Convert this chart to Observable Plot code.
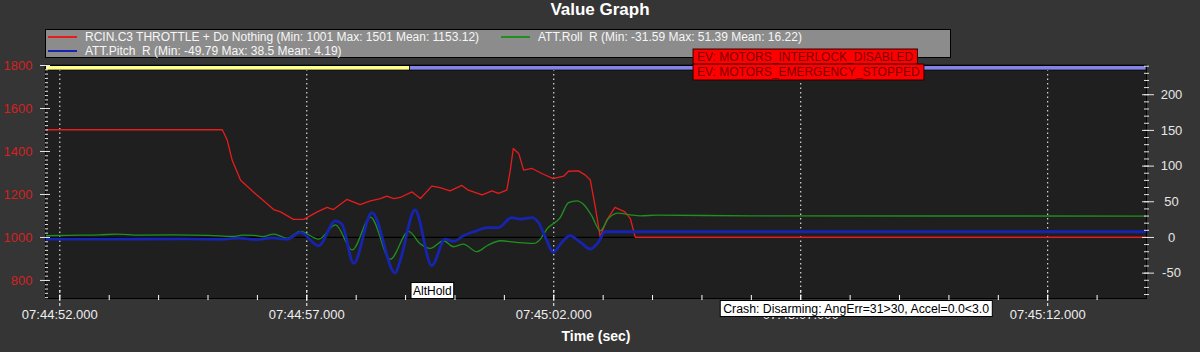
<!DOCTYPE html>
<html><head><meta charset="utf-8">
<script src="https://cdn.jsdelivr.net/npm/d3@7"></script>
<script src="https://cdn.jsdelivr.net/npm/@observablehq/plot@0.6"></script>
<style>
html,body{margin:0;padding:0;background:#353535;}
#wrap{position:relative;width:1200px;height:352px;overflow:hidden;font-family:"Liberation Sans",Arial,sans-serif;}
#title{position:absolute;left:0;top:1px;width:1200px;text-align:center;color:#fff;font-weight:bold;font-size:17px;line-height:18px;}
#legend{position:absolute;left:45px;top:29px;width:904px;height:27px;background:#8c8c8c;border:1px solid #000;}
.li{position:absolute;color:#f6f6f6;font-size:12px;line-height:14px;white-space:pre;}
.ls{position:absolute;height:2px;width:29px;}
#chart{position:absolute;left:0;top:0;}
</style></head>
<body><div id="wrap"><div id="title">Value Graph</div><div id="legend"></div><div id="chart"></div></div>
<script>
// ---- data (time = seconds after 07:44:00) ----
const throttleT = [51.71,55.29,55.39,55.49,55.66,55.99,56.33,56.47,56.73,56.94,57.21,57.41,57.54,57.81,58.08,58.29,58.49,58.62,58.76,58.89,59.13,59.30,59.53,59.70,59.90,60.14,60.27,60.55,60.75,60.88,61.05,61.12,61.18,61.29,61.39,61.56,61.79,61.99,62.20,62.30,62.50,62.64,62.74,62.84,62.94,63.07,63.24,63.44,63.55,63.65,74.0];
const throttleV = [1501,1501,1452,1359,1266,1197,1130,1119,1084,1084,1119,1140,1130,1177,1153,1170,1181,1192,1181,1186,1212,1181,1239,1232,1217,1242,1220,1198,1217,1205,1220,1313,1414,1391,1313,1321,1294,1274,1285,1308,1310,1290,1267,1142,1003,1080,1140,1119,1088,1001,1001];

const rollT = [51.71,52.2,52.8,53.16,53.6,54.3,55.0,55.5,55.7,55.93,56.1,56.33,56.6,56.87,57.24,57.58,57.92,58.29,58.69,59.06,59.30,59.50,59.77,59.97,60.17,60.44,60.65,60.92,61.25,61.59,61.73,61.86,62.13,62.30,62.47,62.60,62.77,62.94,63.11,63.31,63.55,63.75,64.08,66.0,74.0];
const rollV = [2.4,3.0,3.6,4.7,3.3,3.5,3.0,1.5,3.2,3.0,1.2,4.7,-0.9,8.4,-2.3,17.5,-17.5,28.5,-30.5,8.5,-9.3,-15.3,-4.6,-13.0,-9.3,-19.9,-11.6,-4.6,-7.0,-8.4,-2.3,11.7,27.9,48.8,51.4,46.6,30.3,9.3,27.0,34.0,31.7,30.3,31.2,30.3,30.0];

const pitchT = [51.71,53.0,54.5,55.3,55.6,56.0,56.3,56.6,56.87,57.24,57.58,57.71,57.95,58.32,58.79,58.89,59.19,59.53,59.80,59.97,60.17,60.44,60.65,60.88,61.15,61.32,61.56,61.69,61.86,61.99,62.16,62.33,62.54,62.74,62.90,63.04,74.0];
const pitchV = [-2.3,-2.3,-2.0,-2.5,-1.0,-3.0,-0.5,-2.5,7.0,-11.6,23.3,18.7,-36.2,34.9,-49.8,-32.5,38.5,-39.5,-2.3,-5.5,2.4,9.3,13.9,13.9,27.9,25.6,27.9,20.9,-4.6,-20.9,-7.0,2.4,-7.0,-16.2,-7.0,8.0,8.0];

const seriesNames = ["RCIN.C3 THROTTLE + Do Nothing (Min: 1001 Max: 1501 Mean: 1153.12)", "ATT.Roll  R (Min: -31.59 Max: 51.39 Mean: 16.22)", "ATT.Pitch  R (Min: -49.79 Max: 38.5 Mean: 4.19)"];
const seriesColors = ["#e81c1c", "#1f901f", "#1624b0"];

const modeStart = [51.71, 59.09];
const modeEnd = [59.09, 74.0];
const modeColors = ["#ffff8c", "#8484e6"];
const modeLabelT = [59.09];
const modeLabels = ["AltHold"];

const eventT = [64.82, 64.82];
const eventLabels = ["EV: MOTORS_INTERLOCK_DISABLED", "EV: MOTORS_EMERGENCY_STOPPED"];
const crashT = [65.37];
const crashLabels = ["Crash: Disarming: AngErr=31>30, Accel=0.0<3.0"];

const xTicks = [52, 57, 62, 67, 72];
const xTickLabels = ["07:44:52.000", "07:44:57.000", "07:45:02.000", "07:45:07.000", "07:45:12.000"];
const leftTicks = [800, 1000, 1200, 1400, 1600, 1800];
const rightTicks = [-50, 0, 50, 100, 150, 200];

// ---- legend ----
const leg = document.getElementById("legend");
const legPos = [[2, 0], [455, 0], [2, 14]];
seriesNames.forEach((n, i) => {
  const [lx, ly] = legPos[i];
  const s = document.createElement("div"); s.className = "ls";
  s.style.left = lx + "px"; s.style.top = (ly + 6) + "px"; s.style.background = seriesColors[i];
  leg.appendChild(s);
  const t = document.createElement("div"); t.className = "li";
  t.style.left = (lx + 37) + "px"; t.style.top = ly + "px"; t.textContent = n;
  leg.appendChild(t);
});

// ---- chart ----
const K = 3.32, Z = 1000; // right axis -> left axis units
const throttle = throttleT.map((t, i) => ({t, v: throttleV[i]}));
const roll = rollT.map((t, i) => ({t, v: Z + K * rollV[i]}));
const pitch = pitchT.map((t, i) => ({t, v: Z + K * pitchV[i]}));
const modes = modeStart.map((s, i) => ({start: s, end: modeEnd[i], color: modeColors[i]}));
const xFmt = d => xTickLabels[xTicks.indexOf(d)];
const font = '"Liberation Sans", Arial, sans-serif';

const chart = Plot.plot({
  width: 1200, height: 352,
  marginTop: 65, marginBottom: 54, marginLeft: 45, marginRight: 54,
  style: {background: "transparent", fontFamily: font, fontSize: "13px", overflow: "visible"},
  x: {domain: [51.71, 74.0]},
  y: {domain: [716, 1800]},
  color: {type: "identity"},
  marks: [
    Plot.frame({fill: "#1f1f1f", stroke: null}),
    Plot.gridX({ticks: xTicks, stroke: "#fff", strokeOpacity: 1, strokeDasharray: "1.5,3"}),
    Plot.ruleY([Z], {stroke: "#000", strokeWidth: 1.3}),
    Plot.rect(modes, {x1: "start", x2: "end", fill: "color", insetBottom: 228, stroke: "#000", strokeWidth: 0.7}),
    Plot.line(throttle, {x: "t", y: "v", stroke: seriesColors[0], strokeWidth: 1.3}),
    Plot.line(roll, {x: "t", y: "v", stroke: seriesColors[1], strokeWidth: 1.3, curve: "monotone-x"}),
    Plot.line(pitch, {x: "t", y: "v", stroke: seriesColors[2], strokeWidth: 2.8, curve: "monotone-x"}),
    Plot.frame({stroke: "#000"}),
    // left axis
    Plot.axisY({anchor: "left", ticks: leftTicks, tickFormat: d => String(d), tickSize: 0, tickPadding: 13, fill: "#d42222", fontSize: 13, label: null}),
    Plot.axisY({anchor: "left", ticks: leftTicks, tickSize: 5, text: null, stroke: "#e6e6e6", label: null}),
    Plot.axisY({anchor: "left", ticks: leftTicks, tickSize: -5, text: null, stroke: "#e6e6e6", label: null}),
    Plot.axisY({anchor: "left", ticks: d3.range(720, 1800, 20), tickSize: -3, text: null, stroke: "#e6e6e6", label: null}),
    // right axis
    Plot.axisY({anchor: "right", ticks: rightTicks.map(v => Z + K * v), tickFormat: d => String(Math.round((d - Z) / K)), tickSize: 0, tickPadding: 25, textAnchor: "middle", fill: "#e6e6e6", fontSize: 13, label: null}),
    Plot.axisY({anchor: "right", ticks: rightTicks.map(v => Z + K * v), tickSize: 7, text: null, stroke: "#e6e6e6", label: null}),
    Plot.axisY({anchor: "right", ticks: rightTicks.map(v => Z + K * v), tickSize: -5, text: null, stroke: "#e6e6e6", label: null}),
    Plot.axisY({anchor: "right", ticks: d3.range(-80, 241, 10).map(v => Z + K * v), tickSize: -3, text: null, stroke: "#e6e6e6", label: null}),
    Plot.axisY({anchor: "right", ticks: d3.range(-80, 241, 10).map(v => Z + K * v), tickSize: 2, text: null, stroke: "#e6e6e6", label: null}),
    // x axis
    Plot.axisX({ticks: xTicks, tickFormat: xFmt, tickSize: 0, tickPadding: 11, fill: "#eeeeee", fontSize: 13, label: null}),
    Plot.axisX({ticks: xTicks, tickSize: 8, text: null, stroke: "#fff", strokeDasharray: "3,2", label: null}),
    Plot.axisX({ticks: xTicks, tickSize: -8, text: null, stroke: "#fff", strokeDasharray: "3,2", label: null}),
    Plot.axisX({ticks: d3.range(52, 74), tickSize: 2, text: null, stroke: "#fff", label: null}),
    Plot.axisX({ticks: d3.range(52, 74), tickSize: -3, text: null, stroke: "#fff", label: null}),
    Plot.text(["Time (sec)"], {frameAnchor: "bottom", dy: 42, fontWeight: "bold", fontSize: 14, fill: "#fff"}),
    // annotations
    Plot.text(modeLabelT.map((t, i) => ({t, s: modeLabels[i]})), {x: "t", text: "s", frameAnchor: "bottom", dy: -4, dx: 3, textAnchor: "start", fill: "#000", fontSize: 12}),
    Plot.text([{t: eventT[0], s: eventLabels[0]}], {x: "t", text: "s", frameAnchor: "top", dy: -13, dx: 4, textAnchor: "start", fill: "#7a0000", fontSize: 12}),
    Plot.text([{t: eventT[1], s: eventLabels[1]}], {x: "t", text: "s", frameAnchor: "top", dy: 2, dx: 4, textAnchor: "start", fill: "#7a0000", fontSize: 12}),
    Plot.text(crashT.map((t, i) => ({t, s: crashLabels[i]})), {x: "t", text: "s", frameAnchor: "bottom", dy: 14, dx: 3, textAnchor: "start", fill: "#000", fontSize: 12.3})
  ]
});
document.getElementById("chart").appendChild(chart);

function boxify(label, fill, stroke, padX, padY) {
  chart.querySelectorAll("text").forEach(t => {
    if (t.textContent === label) {
      const b = t.getBBox();
      const r = document.createElementNS("http://www.w3.org/2000/svg", "rect");
      r.setAttribute("x", b.x - padX); r.setAttribute("y", b.y - padY);
      r.setAttribute("width", b.width + 2 * padX); r.setAttribute("height", b.height + 2 * padY);
      r.setAttribute("fill", fill); r.setAttribute("stroke", stroke); r.setAttribute("stroke-width", 1);
      const tr = t.getAttribute("transform"); if (tr) r.setAttribute("transform", tr);
      t.parentNode.insertBefore(r, t);
    }
  });
}
modeLabels.forEach(l => boxify(l, "#fff", "#000", 2, 1));
eventLabels.forEach(l => boxify(l, "#ff0000", "#300000", 4, 1));
crashLabels.forEach(l => boxify(l, "#fff", "#000", 3, 1));
</script>
</body></html>
